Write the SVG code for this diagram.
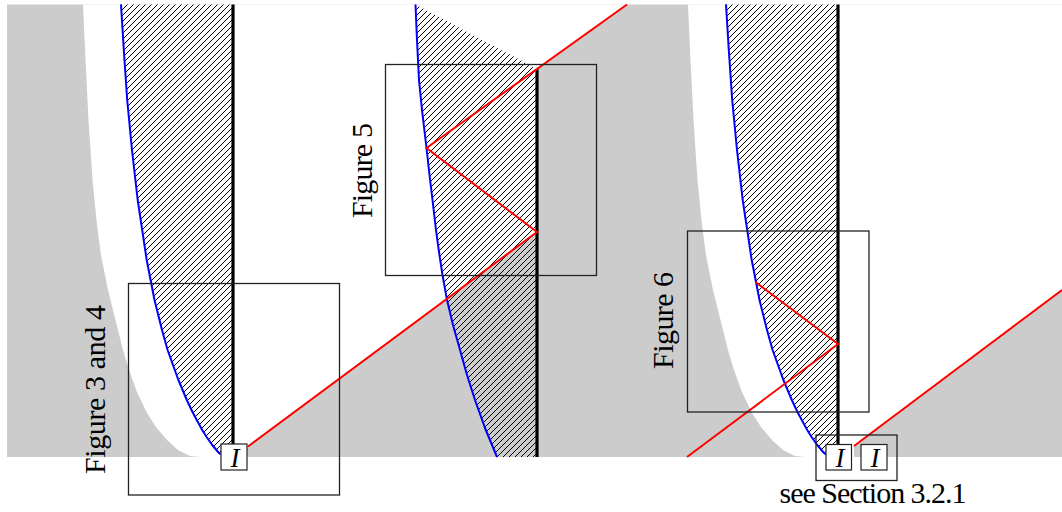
<svg xmlns="http://www.w3.org/2000/svg" width="1062" height="512" viewBox="0 0 1062 512">
  <style>
    .bg { fill: #cccccc; }
    .white { fill: #ffffff; }
    .hatch { fill: url(#hatch); stroke: none; }
    .blue { fill: none; stroke: #0000ff; stroke-width: 2; stroke-linejoin: round; }
    .wall { fill: none; stroke: #000000; stroke-width: 3.2; }
    .ray { fill: none; stroke: #ff0000; stroke-width: 2; stroke-linejoin: miter; }
    .frame { fill: none; stroke: #222222; stroke-width: 1.3; }
    .ibox { fill: #ffffff; stroke: #222222; stroke-width: 1.2; }
    .lbl { font-family: "Liberation Serif", "Times New Roman", serif; font-size: 30px; fill: #000; }
    .ilbl { font-family: "Liberation Serif", "Times New Roman", serif; font-size: 27px; font-style: italic; fill: #000; text-anchor: middle; }
  </style>
  <defs>
    <pattern id="hatch" patternUnits="userSpaceOnUse" width="6" height="6">
      <path d="M-1,1 L1,-1 M0,6 L6,0 M5,7 L7,5" stroke="#000" stroke-width="1"/>
    </pattern>
  </defs>

  <g id="background">
    <rect class="bg" x="7" y="4.5" width="1055" height="452.5"/>
    <path class="white" d="M83,4.5 L85.5,60 L88.5,120 L92.5,180 L97,225 L101,255 L108,290 L118,330 L123,350 L129,370 L137,392 L147,413 L156,427 L167,440 L178,450 L190,456 L200,457 L247,457 L247,446.5 L537,232 L537,69 L627,4.5 Z"/>
    <path class="white" transform="translate(605,0)" d="M83,4.5 L85.5,60 L88.5,120 L92.5,180 L97,225 L101,255 L108,290 L118,330 L123,350 L129,370 L137,392 L147,413 L156,427 L167,440 L178,450 L190,456 L200,457 L249,457 L249,446 L457,290 L457,4.5 Z"/>
  </g>

  <g id="panel1">
    <path class="hatch" d="M121,4.5 L123.8,50 L127.2,100 L132,150 L137.7,200 L146.7,260 L154.5,300 L162,330 L167.6,350 L173,365 L178.4,380 L186.8,400 L193,413 L202.2,430 L206.6,437 L212.2,445 L219,453 L221,454.5 L233,454.5 L233,4.5 Z"/>
    <path class="blue" d="M121,4.5 L123.8,50 L127.2,100 L132,150 L137.7,200 L146.7,260 L154.5,300 L162,330 L167.6,350 L173,365 L178.4,380 L186.8,400 L193,413 L202.2,430 L206.6,437 L212.2,445 L219,453 L221,454.5"/>
    <line class="wall" x1="233" y1="4.5" x2="233" y2="446"/>
  </g>

  <g id="panel2">
    <path class="hatch" d="M415.5,4.5 L417,40 L419,80 L422,110 L426.5,148 L429.5,175 L432.5,200 L436,230 L439,252 L442.5,275 L447,300 L453,325 L460,350 L467,375 L475,400 L485,428 L497,457 L537,457 L537,69 Z"/>
    <path class="blue" d="M415.5,4.5 L417,40 L419,80 L422,110 L426.5,148 L429.5,175 L432.5,200 L436,230 L439,252 L442.5,275 L447,300 L453,325 L460,350 L467,375 L475,400 L485,428 L497,457"/>
    <line class="wall" x1="537" y1="69" x2="537" y2="457"/>
  </g>

  <g id="panel3" transform="translate(605,0)">
    <path class="hatch" d="M121,4.5 L123.8,50 L127.2,100 L132,150 L137.7,200 L146.7,260 L154.5,300 L162,330 L167.6,350 L173,365 L178.4,380 L186.8,400 L193,413 L202.2,430 L206.6,437 L212.2,445 L219,453 L221,454.5 L233,454.5 L233,4.5 Z"/>
    <path class="blue" d="M121,4.5 L123.8,50 L127.2,100 L132,150 L137.7,200 L146.7,260 L154.5,300 L162,330 L167.6,350 L173,365 L178.4,380 L186.8,400 L193,413 L202.2,430 L206.6,437 L212.2,445 L219,453 L221,454.5"/>
    <line class="wall" x1="233" y1="4.5" x2="233" y2="446"/>
  </g>

  <g id="connectors">
    <polyline class="ray" points="248,446.5 537,232 426.5,148 627,4.5"/>
    <polyline class="ray" points="687,457 838,344 755.5,282"/>
    <line class="ray" x1="854" y1="446" x2="1062" y2="290"/>
  </g>

  <g id="fig34">
    <rect class="frame" x="128.5" y="283.5" width="211" height="211.5"/>
    <text class="lbl" transform="translate(105,389.5) rotate(-90)" text-anchor="middle" textLength="169" lengthAdjust="spacing">Figure 3 and 4</text>
  </g>
  <g id="fig5">
    <rect class="frame" x="385.5" y="64.5" width="211" height="211"/>
    <text class="lbl" transform="translate(372,170.5) rotate(-90)" text-anchor="middle" textLength="95" lengthAdjust="spacing">Figure 5</text>
  </g>
  <g id="fig6">
    <rect class="frame" x="687.5" y="231" width="181.5" height="181"/>
    <text class="lbl" transform="translate(673,320.5) rotate(-90)" text-anchor="middle" textLength="97" lengthAdjust="spacing">Figure 6</text>
  </g>
  <g id="sec321">
    <rect class="frame" x="816" y="435" width="81" height="45.5"/>
    <text class="lbl" x="873" y="502.5" text-anchor="middle" textLength="187" lengthAdjust="spacing">see Section 3.2.1</text>
  </g>

  <g id="I1">
    <rect class="ibox" x="221" y="444" width="26" height="26"/>
    <text class="ilbl" x="235" y="466.5">I</text>
  </g>
  <g id="I2">
    <rect class="ibox" x="826" y="444.5" width="25.5" height="25.5"/>
    <text class="ilbl" x="840" y="466.5">I</text>
  </g>
  <g id="I3">
    <rect class="ibox" x="861" y="444.5" width="26" height="25.5"/>
    <text class="ilbl" x="875" y="466.5">I</text>
  </g>
</svg>
